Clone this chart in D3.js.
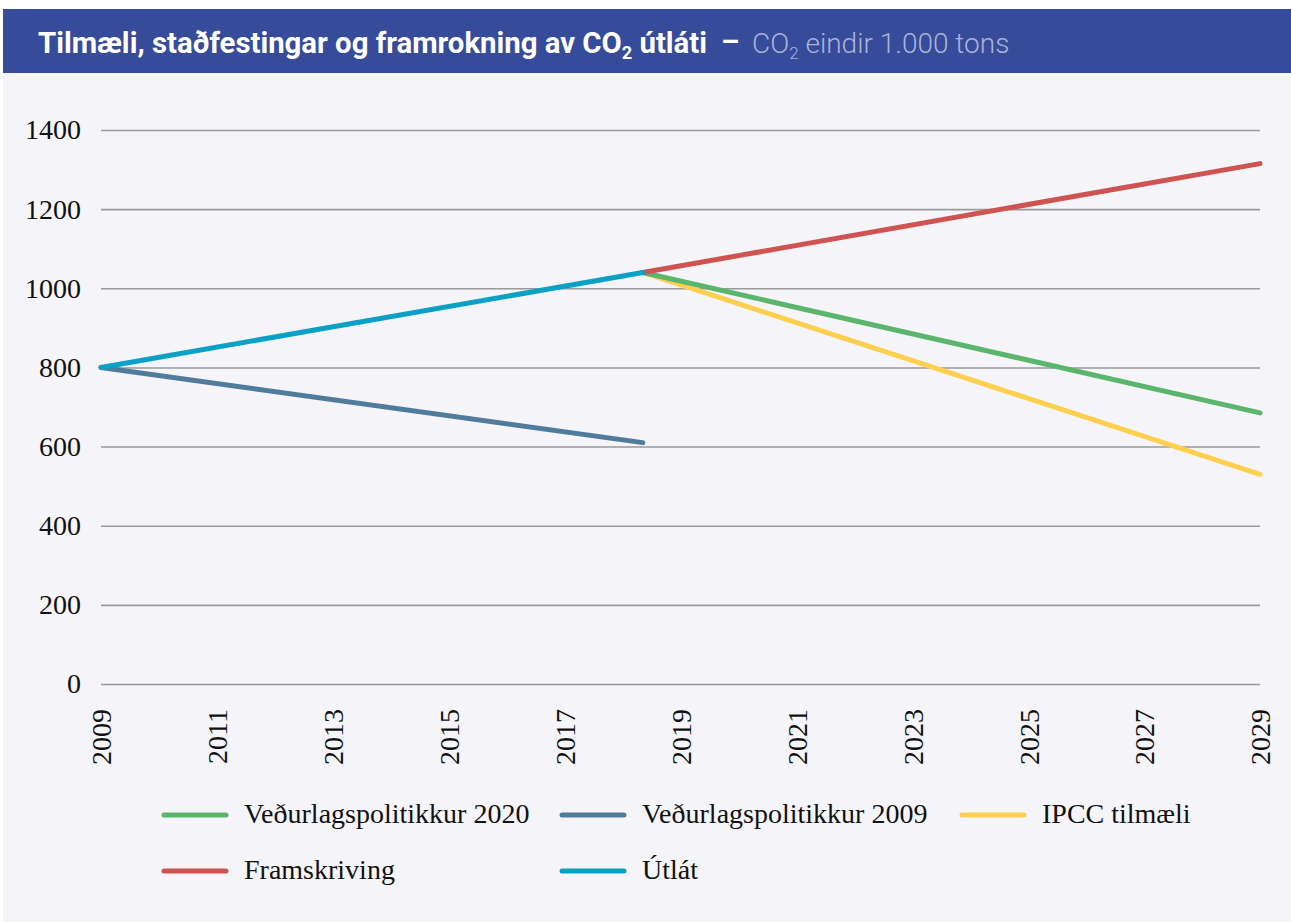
<!DOCTYPE html>
<html>
<head>
<meta charset="utf-8">
<script src="https://cdn.jsdelivr.net/npm/d3@7"></script>
<style>
  body { margin: 0; background: #fff; }
  svg { display: block; }
</style>
</head>
<body>
<div id="chart"></div>
<script>
// Data (CO2, eindir 1.000 tons)
const histYears = [2009, 2018.35];
const futureYears = [2018.35, 2029];
const utlat = [800, 1040];
const politikkur2009 = [800, 610];
const politikkur2020 = [1040, 685];
const ipcc = [1040, 530];
const framskriving = [1040, 1315];
const yTicks = [0, 200, 400, 600, 800, 1000, 1200, 1400];
const xTicks = [2009, 2011, 2013, 2015, 2017, 2019, 2021, 2023, 2025, 2027, 2029];

const series = [
  { name: 'Veðurlagspolitikkur 2009', years: histYears, values: politikkur2009, color: '#507b9b' },
  { name: 'IPCC tilmæli', years: futureYears, values: ipcc, color: '#fdcf4f' },
  { name: 'Veðurlagspolitikkur 2020', years: futureYears, values: politikkur2020, color: '#5bb56c' },
  { name: 'Framskriving', years: futureYears, values: framskriving, color: '#cf5351' },
  { name: 'Útlát', years: histYears, values: utlat, color: '#0aa1c5' }
];

// legend order as in the picture
const legendItems = [
  { name: 'Veðurlagspolitikkur 2020', color: '#5bb56c', col: 0, row: 0 },
  { name: 'Veðurlagspolitikkur 2009', color: '#507b9b', col: 1, row: 0 },
  { name: 'IPCC tilmæli', color: '#fdcf4f', col: 2, row: 0 },
  { name: 'Framskriving', color: '#cf5351', col: 0, row: 1 },
  { name: 'Útlát', color: '#0aa1c5', col: 1, row: 1 }
];

const W = 1291, H = 922;
const serif = '"Liberation Serif", "DejaVu Serif", serif';

const svg = d3.select('#chart').append('svg')
  .attr('width', W)
  .attr('height', H);

// panel + title bar
svg.append('rect')
  .attr('x', 3).attr('y', 9)
  .attr('width', W - 3).attr('height', H - 9)
  .attr('fill', '#f4f4f9');

svg.append('rect')
  .attr('x', 3).attr('y', 9)
  .attr('width', W - 3).attr('height', 64)
  .attr('fill', '#364b9a');

const title = svg.append('text')
  .attr('x', 38).attr('y', 53)
  .attr('font-family', 'Roboto, "Open Sans", sans-serif')
  .attr('font-size', 29)
  .attr('font-weight', 700)
  .attr('fill', '#fff')
  .attr('textLength', 669)
  .attr('lengthAdjust', 'spacingAndGlyphs');
title.append('tspan').text('Tilmæli, staðfestingar og framrokning av CO');
title.append('tspan').attr('font-size', 18).attr('dy', 6).text('2');
title.append('tspan').attr('dy', -6).text(' útláti');

svg.append('text')
  .attr('x', 721).attr('y', 52)
  .attr('font-family', 'Roboto, sans-serif')
  .attr('font-size', 29)
  .attr('font-weight', 700)
  .attr('fill', '#fff')
  .text('–');

const sub = svg.append('text')
  .attr('x', 752).attr('y', 53)
  .attr('font-family', 'Roboto, "Open Sans", sans-serif')
  .attr('font-size', 28)
  .attr('font-weight', 300)
  .attr('fill', '#aab3d8');
sub.append('tspan').text('CO');
sub.append('tspan').attr('font-size', 17).attr('dy', 6).text('2');
sub.append('tspan').attr('dy', -6).text(' eindir 1.000 tons');

// scales
const x = d3.scaleLinear().domain([2009, 2029]).range([101, 1260]);
const y = d3.scaleLinear().domain([0, 1400]).range([684, 130]);

// y grid + labels
const yAxis = svg.append('g')
  .attr('transform', 'translate(101,0)')
  .call(d3.axisLeft(y).tickValues(yTicks).tickSize(-(1260 - 101)).tickPadding(20).tickFormat(d3.format('d')));
yAxis.select('.domain').remove();
yAxis.selectAll('.tick line').attr('stroke', '#9a9a9a').attr('stroke-width', 1.6);
yAxis.selectAll('.tick text')
  .attr('font-family', serif)
  .attr('font-size', 28)
  .attr('fill', '#111');

// x labels (rotated)
const xAxis = svg.append('g')
  .attr('transform', 'translate(0,684)')
  .call(d3.axisBottom(x).tickValues(xTicks).tickSize(0).tickFormat(d3.format('d')));
xAxis.select('.domain').remove();
xAxis.selectAll('.tick text')
  .attr('font-family', serif)
  .attr('font-size', 28)
  .attr('fill', '#111')
  .attr('text-anchor', 'end')
  .attr('transform', 'rotate(-90)')
  .attr('x', -25)
  .attr('y', 0)
  .attr('dy', '0.35em');

// lines
const line = d3.line()
  .x(d => x(d[0]))
  .y(d => y(d[1]));

svg.append('g').selectAll('path')
  .data(series)
  .enter().append('path')
  .attr('d', s => line(s.years.map((yr, i) => [yr, s.values[i]])))
  .attr('fill', 'none')
  .attr('stroke', s => s.color)
  .attr('stroke-width', 5)
  .attr('stroke-linecap', 'round');

// legend
const colX = [164, 562, 962];
const rowY = [815, 871];
const lg = svg.append('g').selectAll('g')
  .data(legendItems)
  .enter().append('g')
  .attr('transform', d => `translate(${colX[d.col]},${rowY[d.row]})`);
lg.append('line')
  .attr('x1', 0).attr('x2', 62)
  .attr('stroke', d => d.color)
  .attr('stroke-width', 5)
  .attr('stroke-linecap', 'round');
lg.append('text')
  .attr('x', 80)
  .attr('dy', '0.3em')
  .attr('font-family', serif)
  .attr('font-size', 28)
  .attr('fill', '#111')
  .text(d => d.name);
</script>
</body>
</html>
